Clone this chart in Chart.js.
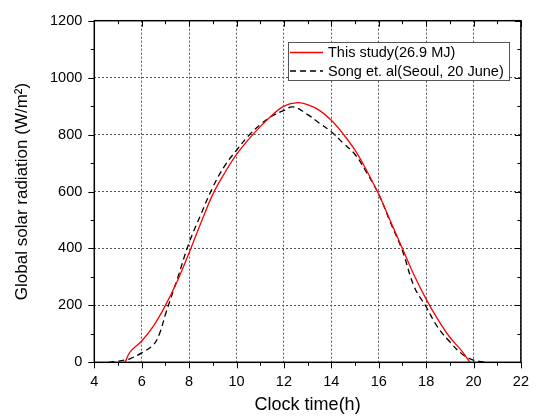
<!DOCTYPE html>
<html>
<head>
<meta charset="utf-8">
<script src="https://cdn.jsdelivr.net/npm/chart.js@4"></script>
<style>
  body { margin: 0; background: #fff; }
</style>
</head>
<body>
<canvas id="chartRadiasi" width="540" height="417"></canvas>
<script>
// values
const hoursStudy = [5.3, 5.5, 6, 6.5, 7, 7.5, 8, 8.5, 9, 9.5, 10, 10.5, 11, 11.5, 12, 12.6, 13, 13.5, 14, 14.5, 15, 15.5, 16, 16.5, 17, 17.5, 18, 18.5, 19, 19.5, 19.85];
const radStudy = [0, 35, 75, 128, 200, 285, 385, 490, 590, 665, 730, 782, 828, 868, 900, 912, 905, 885, 850, 802, 745, 672, 590, 495, 400, 305, 222, 150, 88, 40, 0];

const hoursSong = [4.6, 5, 5.3, 5.5, 6, 6.5, 6.75, 7, 7.5, 8, 8.5, 9, 9.5, 10, 10.5, 11, 11.5, 12, 12.4, 13, 13.5, 14, 14.5, 15, 15.5, 16, 16.5, 17, 17.5, 18, 18.5, 19, 19.5, 20, 20.5];
const radSong = [0, 4, 8, 12, 33, 62, 100, 168, 292, 420, 520, 615, 690, 745, 795, 835, 865, 885, 897, 870, 840, 810, 770, 730, 665, 590, 490, 392, 265, 195, 122, 72, 30, 8, 0];

const xTicks = [4, 6, 8, 10, 12, 14, 16, 18, 20, 22];
const yTicks = [0, 200, 400, 600, 800, 1000, 1200];

const labelStudy = "This study(26.9 MJ)";
const labelSong = "Song et. al(Seoul, 20 June)";

const toPoints = (xs, ys) => xs.map((v, i) => ({ x: v, y: ys[i] }));

// frame + ticks (outward left/bottom, inward top/right)
const frameTicks = {
  id: "frameTicks",
  afterDraw(chart) {
    const { ctx, chartArea: a, scales: { x, y } } = chart;
    ctx.save();
    ctx.strokeStyle = "#000";
    ctx.lineWidth = 1;
    ctx.beginPath();
    for (let v = x.min; v <= x.max; v += 1) {
      const px = Math.round(x.getPixelForValue(v)) + 0.5;
      const len = v % 2 === 0 ? 6 : 3.5;
      ctx.moveTo(px, a.bottom);
      ctx.lineTo(px, a.bottom + len);
      ctx.moveTo(px, a.top);
      ctx.lineTo(px, a.top + len);
    }
    for (let v = y.min; v <= y.max; v += 100) {
      const py = Math.round(y.getPixelForValue(v)) + 0.5;
      const len = v % 200 === 0 ? 6 : 3.5;
      ctx.moveTo(a.left, py);
      ctx.lineTo(a.left - len, py);
      ctx.moveTo(a.right, py);
      ctx.lineTo(a.right - len, py);
    }
    ctx.stroke();
    ctx.lineWidth = 1.5;
    ctx.strokeRect(a.left, a.top, a.right - a.left, a.bottom - a.top);
    ctx.restore();
  },
};

// boxed legend inside the plot
const boxLegend = {
  id: "boxLegend",
  afterDraw(chart) {
    const { ctx } = chart;
    const bx = 288, by = 42, bw = 221, bh = 38;
    ctx.save();
    ctx.fillStyle = "#fff";
    ctx.fillRect(bx, by, bw, bh);
    ctx.strokeStyle = "#555";
    ctx.lineWidth = 1;
    ctx.strokeRect(bx + 0.5, by + 0.5, bw, bh);
    ctx.font = "14.5px 'Liberation Sans', Arial, sans-serif";
    ctx.textBaseline = "middle";
    chart.data.datasets.forEach((ds, i) => {
      const ly = by + 10.5 + i * 18.5;
      ctx.strokeStyle = ds.borderColor;
      ctx.lineWidth = ds.borderWidth;
      ctx.setLineDash(ds.borderDash || []);
      ctx.beginPath();
      ctx.moveTo(bx + 2, ly);
      ctx.lineTo(bx + 35, ly);
      ctx.stroke();
      ctx.setLineDash([]);
      ctx.fillStyle = "#000";
      ctx.fillText(ds.label, bx + 40, ly + 0.5);
    });
    ctx.restore();
  },
};

const fontTick = { family: "'Liberation Sans', Arial, sans-serif", size: 14.5 };
const fontTitle = { family: "'Liberation Sans', Arial, sans-serif", size: 18 };

new Chart(document.getElementById("chartRadiasi"), {
  type: "line",
  data: {
    datasets: [
      {
        label: labelStudy,
        data: toPoints(hoursStudy, radStudy),
        borderColor: "#ff0000",
        borderWidth: 1.3,
        pointRadius: 0,
        tension: 0.4,
      },
      {
        label: labelSong,
        data: toPoints(hoursSong, radSong),
        borderColor: "#000000",
        borderWidth: 1.3,
        borderDash: [6, 4],
        pointRadius: 0,
        tension: 0.4,
      },
    ],
  },
  options: {
    responsive: false,
    animation: false,
    layout: { padding: { left: 0, top: 18, right: 10.7, bottom: 0 } },
    plugins: {
      legend: { display: false },
      tooltip: { enabled: false },
    },
    scales: {
      x: {
        type: "linear",
        min: 4,
        max: 22,
        afterBuildTicks: (s) => { s.ticks = xTicks.map((v) => ({ value: v })); },
        afterFit: (s) => { s.height = 54.7; },
        ticks: { color: "#000", font: fontTick, padding: 11, maxRotation: 0, callback: (v) => String(v) },
        grid: { color: "#555", lineWidth: 1, drawTicks: false },
        border: { display: false, dash: [2, 2] },
        title: { display: true, text: "Clock time(h)", color: "#000", font: fontTitle, padding: { top: 0, bottom: 1 } },
      },
      y: {
        min: 0,
        max: 1200,
        afterBuildTicks: (s) => { s.ticks = yTicks.map((v) => ({ value: v })); },
        afterFit: (s) => { s.width = 94.3; },
        ticks: { color: "#000", font: fontTick, padding: 12, callback: (v) => String(v) },
        grid: { color: "#555", lineWidth: 1, drawTicks: false },
        border: { display: false, dash: [2, 2] },
        title: { display: true, text: "Global solar radiation (W/m²)", color: "#000", font: { family: "'Liberation Sans', Arial, sans-serif", size: 17 }, padding: { top: 12, bottom: 0 } },
      },
    },
  },
  plugins: [frameTicks, boxLegend],
});
</script>
</body>
</html>
